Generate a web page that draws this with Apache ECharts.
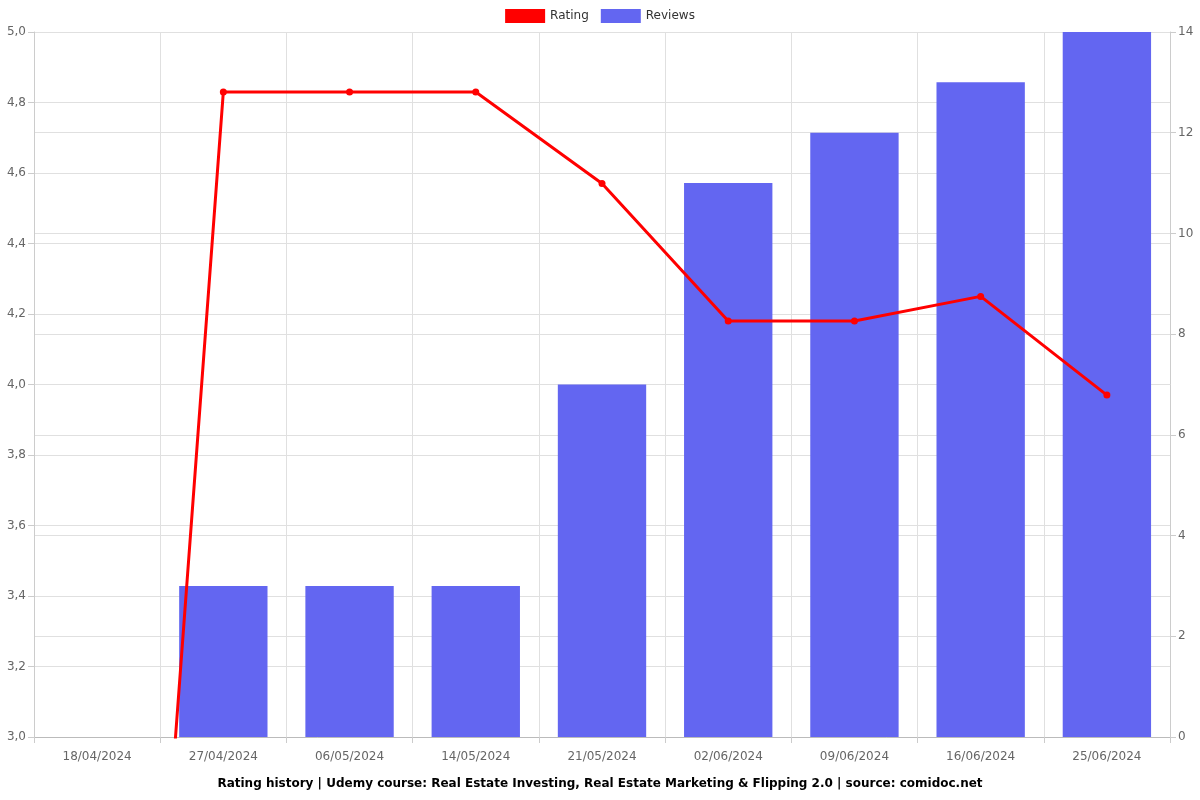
<!DOCTYPE html>
<html><head><meta charset="utf-8">
<script src="https://cdn.jsdelivr.net/npm/echarts@6/dist/echarts.min.js"></script>
<style>html,body{margin:0;padding:0;background:#fff}#c{width:1200px;height:800px}</style>
</head><body><div id="c"></div>
<script>
const categories = ['18/04/2024','27/04/2024','06/05/2024','14/05/2024','21/05/2024','02/06/2024','09/06/2024','16/06/2024','25/06/2024'];
const ratingValues = [0, 4.83, 4.83, 4.83, 4.57, 4.18, 4.18, 4.25, 3.97];
const reviewValues = [0, 3, 3, 3, 7, 11, 12, 13, 14];
const titleText = 'Rating history | Udemy course: Real Estate Investing, Real Estate Marketing & Flipping 2.0 | source: comidoc.net';

const font = 'DejaVu Sans';
const chart = echarts.init(document.getElementById('c'));
chart.setOption({
  animation: false,
  textStyle: {fontFamily: font},
  title: {text: titleText, left: 'center', bottom: 5,
    textStyle: {fontFamily: font, fontSize: 12, fontWeight: 'bold', color: '#000'}},
  legend: {top: 4, left: 'center', itemWidth: 40, itemHeight: 14, itemGap: 12,
    textStyle: {fontFamily: font, fontSize: 12, color: '#333'},
    data: [{name: 'Rating', icon: 'rect', itemStyle: {borderWidth: 0}},
           {name: 'Reviews', icon: 'rect', itemStyle: {borderWidth: 0}}]},
  grid: {left: 34, right: 30, top: 32, bottom: 63, containLabel: false},
  xAxis: {type: 'category', data: categories, boundaryGap: true,
    axisLine: {lineStyle: {color: '#bbb'}},
    axisTick: {show: true, alignWithLabel: false, lineStyle: {color: '#ccc'}, length: 6},
    axisLabel: {color: '#666', fontSize: 12, margin: 14, fontFamily: font},
    splitLine: {show: true, lineStyle: {color: '#e0e0e0'}}},
  yAxis: [
    {type: 'value', min: 3, max: 5, interval: 0.2, position: 'left',
     axisLine: {show: true, lineStyle: {color: '#ccc'}},
     axisTick: {show: true, length: 6, lineStyle: {color: '#ccc'}},
     axisLabel: {color: '#666', fontSize: 12, fontFamily: font, margin: 8,
       formatter: v => v.toFixed(1).replace('.', ',')},
     splitLine: {show: true, lineStyle: {color: '#e0e0e0'}}},
    {type: 'value', min: 0, max: 14, interval: 2, position: 'right',
     axisLine: {show: true, lineStyle: {color: '#ccc'}},
     axisTick: {show: true, length: 6, lineStyle: {color: '#ccc'}},
     axisLabel: {color: '#666', fontSize: 12, fontFamily: font, margin: 8},
     splitLine: {show: true, lineStyle: {color: '#e0e0e0'}}}
  ],
  series: [
    {name: 'Rating', type: 'line', yAxisIndex: 0, data: ratingValues, z: 5,
     symbol: 'circle', symbolSize: 7, showSymbol: true,
     itemStyle: {color: '#ff0000'}, lineStyle: {color: '#ff0000', width: 3}},
    {name: 'Reviews', type: 'bar', yAxisIndex: 1, data: reviewValues, barWidth: '70%', z: 2,
     itemStyle: {color: '#6366f1', borderWidth: 0}}
  ]
});
</script></body></html>
